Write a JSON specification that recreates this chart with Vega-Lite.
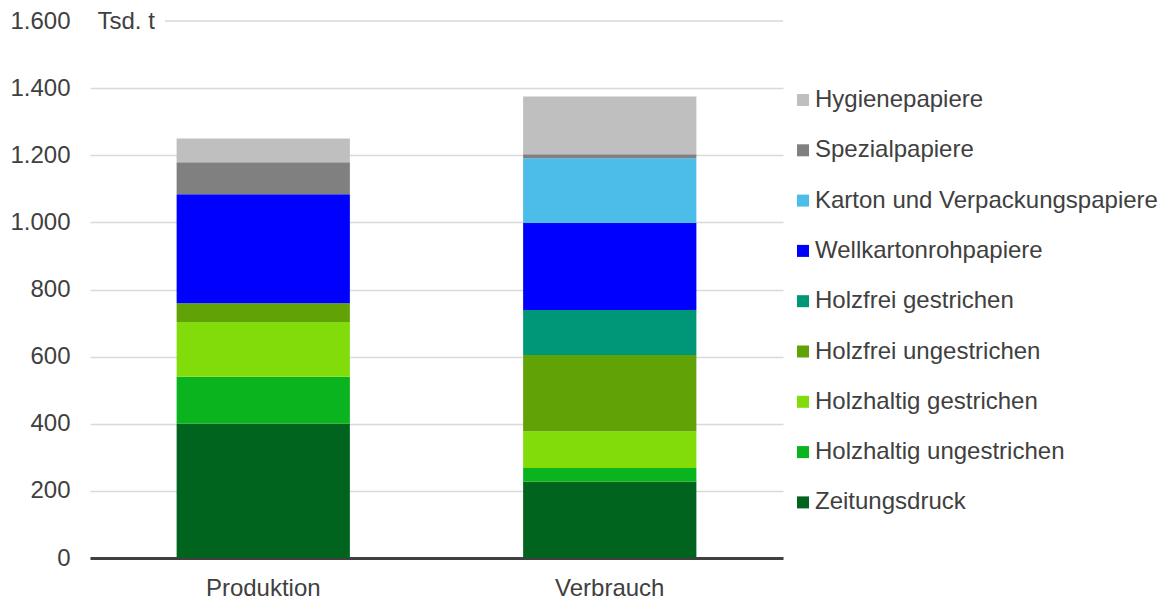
{
  "$schema": "https://vega.github.io/schema/vega-lite/v6.json",
  "autosize": "none",
  "width": 693,
  "height": 537,
  "padding": {"left": 90, "top": 21, "right": 383, "bottom": 40},
  "background": "white",
  "config": {
    "view": {"stroke": null},
    "font": "Liberation Sans",
    "text": {"font": "Liberation Sans"}
  },
  "datasets": {
    "bars": [
      {"Art": "Produktion", "Sorte": "Zeitungsdruck", "o": 1, "Wert": 400},
      {"Art": "Produktion", "Sorte": "Holzhaltig ungestrichen", "o": 2, "Wert": 140},
      {"Art": "Produktion", "Sorte": "Holzhaltig gestrichen", "o": 3, "Wert": 163},
      {"Art": "Produktion", "Sorte": "Holzfrei ungestrichen", "o": 4, "Wert": 56},
      {"Art": "Produktion", "Sorte": "Holzfrei gestrichen", "o": 5, "Wert": 0},
      {"Art": "Produktion", "Sorte": "Wellkartonrohpapiere", "o": 6, "Wert": 325},
      {"Art": "Produktion", "Sorte": "Karton und Verpackungspapiere", "o": 7, "Wert": 0},
      {"Art": "Produktion", "Sorte": "Spezialpapiere", "o": 8, "Wert": 95},
      {"Art": "Produktion", "Sorte": "Hygienepapiere", "o": 9, "Wert": 71},
      {"Art": "Verbrauch", "Sorte": "Zeitungsdruck", "o": 1, "Wert": 227},
      {"Art": "Verbrauch", "Sorte": "Holzhaltig ungestrichen", "o": 2, "Wert": 41},
      {"Art": "Verbrauch", "Sorte": "Holzhaltig gestrichen", "o": 3, "Wert": 110},
      {"Art": "Verbrauch", "Sorte": "Holzfrei ungestrichen", "o": 4, "Wert": 227},
      {"Art": "Verbrauch", "Sorte": "Holzfrei gestrichen", "o": 5, "Wert": 134},
      {"Art": "Verbrauch", "Sorte": "Wellkartonrohpapiere", "o": 6, "Wert": 259},
      {"Art": "Verbrauch", "Sorte": "Karton und Verpackungspapiere", "o": 7, "Wert": 193},
      {"Art": "Verbrauch", "Sorte": "Spezialpapiere", "o": 8, "Wert": 12},
      {"Art": "Verbrauch", "Sorte": "Hygienepapiere", "o": 9, "Wert": 172}
    ],
    "topline": [{"a": 0.108, "b": 1, "y": 1600}]
  },
  "layer": [
    {
      "data": {"name": "bars"},
      "mark": {"type": "bar"},
      "encoding": {
        "x": {
          "field": "Art", "type": "nominal",
          "scale": {"paddingInner": 0.5, "paddingOuter": 0.25},
          "axis": {
            "title": null, "labelAngle": 0, "labelFontSize": 24, "labelColor": "#404040",
            "labelPadding": 18, "ticks": false, "domainColor": "#404040", "domainWidth": 3,
            "labelFont": "Liberation Sans"
          }
        },
        "y": {
          "field": "Wert", "type": "quantitative", "stack": "zero",
          "scale": {"domain": [0, 1600], "nice": false},
          "axis": {
            "values": [0, 200, 400, 600, 800, 1000, 1200, 1400, 1600],
            "format": ",.0f",
            "labelExpr": "replace(datum.label, ',', '.')",
            "labelFontSize": 24, "labelColor": "#404040", "labelPadding": 20,
            "labelFont": "Liberation Sans",
            "ticks": false, "domain": false,
            "gridColor": {"condition": {"test": "datum.value == 1600", "value": "transparent"}, "value": "#d9d9d9"},
            "gridWidth": 1.5,
            "title": "Tsd. t", "titleAngle": 0, "titleX": 7, "titleY": 0,
            "titleAlign": "left", "titleBaseline": "middle", "titleFontSize": 24,
            "titleFontWeight": "normal", "titleColor": "#404040", "titleFont": "Liberation Sans"
          }
        },
        "order": {"field": "o", "type": "quantitative", "sort": "ascending"},
        "color": {
          "field": "Sorte", "type": "nominal",
          "scale": {
            "domain": ["Hygienepapiere", "Spezialpapiere", "Karton und Verpackungspapiere", "Wellkartonrohpapiere", "Holzfrei gestrichen", "Holzfrei ungestrichen", "Holzhaltig gestrichen", "Holzhaltig ungestrichen", "Zeitungsdruck"],
            "range": ["#bfbfbf", "#808080", "#4bbde8", "#0000ff", "#009678", "#61a306", "#82dc0a", "#0ab41e", "#00641e"]
          },
          "legend": {
            "title": null, "orient": "none", "legendX": 701, "legendY": 67,
            "symbolType": "square", "symbolSize": 144, "symbolStrokeWidth": 0, "symbolOpacity": 1,
            "labelFontSize": 24, "labelColor": "#404040", "labelOffset": 0,
            "labelFont": "Liberation Sans", "rowPadding": 26.3, "labelLimit": 500
          }
        }
      }
    },
    {
      "data": {"name": "topline"},
      "mark": {"type": "rule", "color": "#d9d9d9", "strokeWidth": 1.5},
      "encoding": {
        "x": {"field": "a", "type": "quantitative", "scale": {"domain": [0, 1], "nice": false, "zero": false}, "axis": null},
        "x2": {"field": "b"},
        "y": {"field": "y", "type": "quantitative"}
      }
    }
  ],
  "resolve": {"scale": {"x": "independent"}}
}
